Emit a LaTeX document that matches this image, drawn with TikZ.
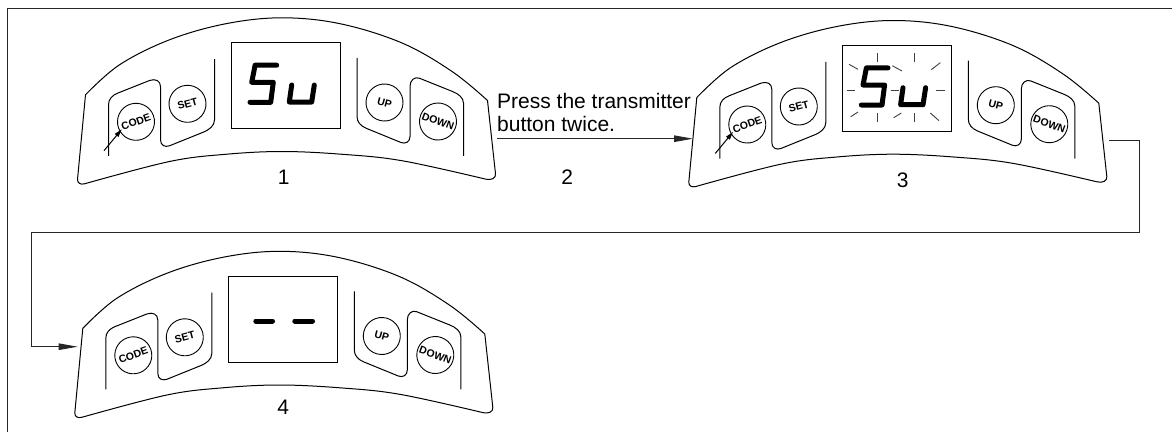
\documentclass[tikz,border=0pt]{standalone}
\usepackage{fontspec}
\setmainfont{Liberation Sans}
\usetikzlibrary{arrows, arrows.meta}
\usetikzlibrary{calc}

\tikzset{
  outline/.style={line width=1pt, line join=round},
  keybtn/.style={circle, draw, line width=0.9pt, inner sep=0pt, minimum size=37pt, font=\fontsize{10.5}{11}\selectfont\bfseries},
  segment/.style={line width=5pt, line cap=round, line join=round},
  ray/.style={line width=0.9pt, black!75},
  wire/.style={line width=1pt, black!85},
  caption/.style={inner sep=0pt, font=\fontsize{21}{23.3}\selectfont},
}

\newcommand{\keypad}[3]{
  \begin{scope}[shift={(#2,#3)}]
    \draw[outline] plot[smooth, tension=0.6] coordinates {(-200,9) (-166,-21) (-116,-46) (-60,-62) (-3.5,-68) (55,-62) (117,-42.6) (167,-14) (202,14.7)}
      -- (210,88) .. controls (210.5,92.5) and (206,94.5) .. (200.5,93.4)
      -- plot[smooth, tension=0.6] coordinates {(200.5,93.4) (117,75) (57,68.5) (-3.5,65.7) (-60,68.5) (-116,75.7) (-201,98)}
      .. controls (-205,99) and (-208,97.5) .. (-208,93.7) -- cycle;
    \draw[outline] (-177,70) -- (-177,19) .. controls (-177,13) and (-173,9.5) .. (-168,7.4) -- (-136,-5.3)
      .. controls (-130,-7.5) and (-125,-5) .. (-125,0.7) -- (-125,54)
      .. controls (-125,60) and (-120,61.5) .. (-116,60) -- (-83,46.7)
      .. controls (-76,44) and (-71,40) .. (-71,34) -- (-71,-26.6);
    \draw[outline] (71.5,-28) -- (71.5,30.7) .. controls (71.5,36) and (75,40) .. (80.5,42.4) -- (115.5,56.7)
      .. controls (120,58.5) and (124.5,56) .. (124.5,50.7) -- (124.5,0.7)
      .. controls (124.5,-5.5) and (129,-9.5) .. (133.9,-7.6) -- (167,5.7)
      .. controls (173,8) and (178,12) .. (178,17.4) -- (178,70);
    \node[draw, line width=1pt, minimum width=109pt, minimum height=86pt, inner sep=0pt] (#1disp) at (0,0) {};
    \node[keybtn, rotate=20] (#1code) at (-149.5,36) {CODE};
    \node[keybtn, rotate=15] (#1set) at (-98,18) {SET};
    \node[keybtn, rotate=-15] (#1up) at (99,16.7) {UP};
    \node[keybtn, rotate=-20] (#1down) at (152.5,35.7) {DOWN};
  \end{scope}
}

\newcommand{\sugly}[2]{
  \begin{scope}[shift={(#1,#2)}]
    \draw[segment] (-8.8,-20.6) -- (-30.4,-20.6) -- (-33.8,-3.5) -- (-12.2,-3.5) -- (-14.8,16.5) -- (-35.5,16.5);
    \draw[segment] (6.2,-0.8) -- (3.8,16.2) -- (26.2,16.2) -- (28.8,-0.8);
  \end{scope}
}

\newcommand{\pushtip}[2]{
  \begin{scope}[shift={(#1,#2)}]
    \coordinate (tail) at (-181.5,64.9);
    \coordinate (tip) at (-163.8,43.5);
    \draw[outline, -{Triangle[length=8pt, width=4.5pt]}] (tail) -- (tip);
  \end{scope}
}

\begin{document}
\begin{tikzpicture}[x=1pt, y=-1pt]
  \useasboundingbox (0,0) rectangle (1172,432);

  \coordinate (cornerb) at (7.3,432);
  \coordinate (cornera) at (7.3,8);
  \coordinate (cornerc) at (1172,8);
  \draw[wire] (cornerb) -- (cornera) -- (cornerc);

  \keypad{a}{285.5}{85.8}
  \keypad{c}{896.8}{88.5}
  \keypad{d}{282.8}{319.3}

  \sugly{285.5}{85.8}
  \sugly{896.8}{88.5}
  \pushtip{285.5}{85.8}
  \pushtip{896.8}{88.5}

  \begin{scope}[shift={(896.8,88.5)}]
    \foreach \xa/\ya/\xb/\yb in {-19.1/-35.5/-19.1/-26.5, 17.2/-35.5/17.2/-26.5, -47.8/-24.2/-38.8/-19.2,
      -4.5/-22.8/5.2/-17.5, 43.5/-25.8/34.5/-18.8, -49.8/2.2/-41.8/2.2, -6.1/2.2/1.9/2.2, 39.5/2.2/47.9/2.2,
      -46.1/28.2/-38.8/23.5, -3.1/29.2/4.5/24.5, 33.5/24.5/42.2/32.2, -19.1/24.5/-19.1/33.8, 17.2/24.5/17.2/33.8}
      \draw[ray] (\xa,\ya) -- (\xb,\yb);
  \end{scope}

  \begin{scope}[shift={(282.8,319.3)}]
    \draw[segment] (-27,1.7) -- (-10.3,1.7);
    \draw[segment] (12,1.7) -- (29.7,1.7);
  \end{scope}

  \node[caption] (num1) at (283.7,177.3) {1};
  \node[caption] (num2) at (567.3,177.3) {2};
  \node[caption] (num3) at (902.7,180) {3};
  \node[caption] (num4) at (283.3,407.3) {4};
  \node[caption, align=left, anchor=west] (press) at (497,112.5) {Press the transmitter\\button twice.};

  \coordinate (aout) at (497,138.7);
  \coordinate (cin) at (693,138.7);
  \draw[wire, -{Triangle[length=19pt, width=6.5pt]}] (aout) -- (cin);

  \coordinate (cout) at (1109.3,140);
  \coordinate (turna) at (1139.3,140);
  \coordinate (turnb) at (1139.3,232.7);
  \coordinate (turnc) at (31.3,232.7);
  \coordinate (turnd) at (31.3,346.7);
  \coordinate (din) at (77.7,346.7);
  \draw[wire, -{Triangle[length=19pt, width=6.5pt]}] (cout) -- (turna) -- (turnb) -- (turnc) -- (turnd) -- (din);
\end{tikzpicture}
\end{document}
